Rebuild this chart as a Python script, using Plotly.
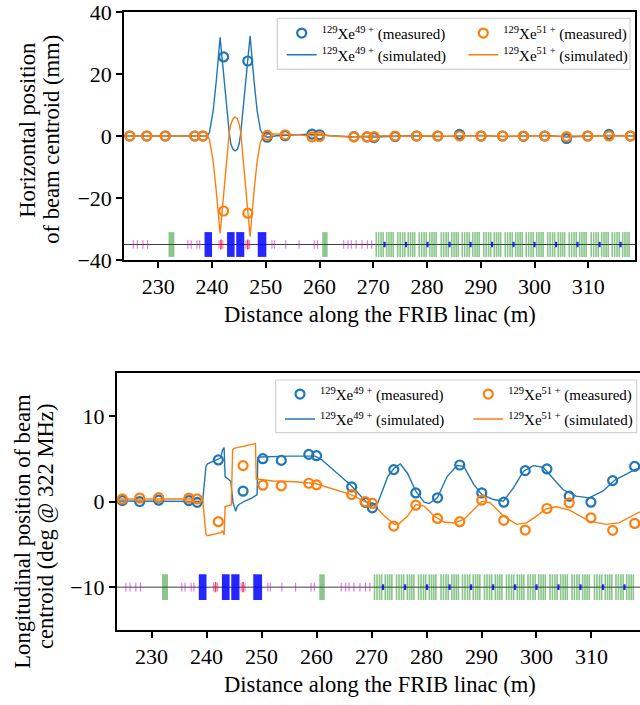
import plotly.graph_objects as go

W, H = 640, 705
FONT = "Liberation Serif"
C49 = "#1f77b4"
C51 = "#ff7f0e"

# ---------------- data ----------------
bpm_pos = [224.7, 227.85, 231.3, 236.8, 238.3, 242.15, 246.65, 250.25, 253.6, 258.6, 260.0,
           266.4, 268.85, 270.15, 274.05, 278.05, 282.0, 286.05, 290.05, 294.05, 297.95,
           301.9, 305.95, 309.9, 313.85, 317.85]
hor_meas_49 = [0, 0, 0, 0, 0, 25.5, 24.2, -0.4, 0.1, 0.6, 0.4, -0.2, -0.3, -0.5, -0.2, 0, 0,
               0.5, 0, 0, -0.1, 0, -0.8, 0, 0.5, 0]
hor_meas_51 = [0, 0, 0, 0, 0, -24.2, -24.9, 0.2, 0.4, -0.3, -0.2, -0.3, -0.3, -0.2, 0, 0, 0,
               0, 0, 0, 0, 0, -0.2, 0, 0, 0]
lon_meas_49 = [0.1, 0.0, 0.15, 0.1, -0.1, 4.85, 1.2, 5.0, 4.8, 5.5, 5.35, 1.7, -0.1, -0.74,
               3.72, 1.0, 0.43, 4.26, 1.0, -0.08, 3.6, 3.8, 0.62, -0.08, 2.44, 4.1]
lon_meas_51 = [0.3, 0.4, 0.45, 0.4, 0.3, -2.36, 4.19, 1.9, 1.82, 2.13, 1.94, 0.8, 0.0, -0.23,
               -2.87, -0.43, -1.98, -2.36, 0.15, -2.2, -3.33, -0.82, -0.15, -1.9, -3.37, -2.56]

hor_sim_49_s = [223.65, 239.0, 239.5, 240.2, 240.8, 241.5, 243.2, 243.5, 243.9, 244.3, 244.7,
                245.05, 245.35, 247.08, 247.8, 248.4, 249.0, 249.55, 250.2, 252.0, 255.0,
                258.0, 260.0, 262.0, 266.0, 270.0, 274.0, 278.0, 282.0, 286.0, 290.0, 294.0,
                298.0, 302.0, 306.0, 310.0, 314.0, 318.7]
hor_sim_49_v = [0, 0, 1.0, 8.0, 18.0, 31.8, 1.0, -2.5, -4.3, -4.8, -4.3, -2.5, 1.0, 32.3, 18.0,
                8.0, 2.0, 0.3, -0.4, 0.1, 0.3, 0.6, 0.5, 0.1, -0.2, -0.3, -0.1, 0.1, -0.2, 0.1,
                0.2, -0.2, 0.0, 0.2, -0.3, -0.1, 0.2, 0.0]
hor_sim_51_s = [223.65, 239.0, 239.5, 240.2, 240.8, 241.5, 243.2, 243.5, 243.9, 244.3, 244.7,
                245.05, 245.35, 247.08, 247.8, 248.4, 249.0, 249.55, 250.5, 253.0, 256.0,
                258.0, 260.0, 262.0, 266.0, 268.0, 272.0, 276.0, 280.0, 284.0, 288.0, 292.0,
                296.0, 300.0, 304.0, 308.0, 312.0, 318.7]
hor_sim_51_v = [0, 0, -1.0, -8.0, -18.0, -31.4, 1.0, 3.8, 5.6, 6.1, 5.6, 3.8, 1.0, -32.5, -18.0,
                -8.0, -2.0, -0.2, 0.7, 0.6, 0.4, 0.0, 0.3, 0.1, -0.4, -0.1, 0.1, -0.1, 0.1,
                -0.1, 0.1, 0.0, -0.1, 0.1, -0.1, 0.0, 0.1, 0.0]

lon_sim_49_s = [223.65, 239.29, 239.9, 240.19, 242.6, 242.9, 243.2, 243.38, 243.98, 244.41,
                244.82, 245.31, 245.6, 245.9, 246.8, 248.3, 249.2, 249.33, 249.82, 255.0,
                259.75, 260.9, 266.3, 267.5, 268.75, 269.95, 271.15, 272.95, 274.15, 275.24,
                276.55, 278.05, 279.57, 280.47, 281.97, 283.77, 285.57, 286.78, 288.58, 290.08,
                292.19, 293.99, 295.8, 297.6, 299.4, 301.2, 303.0, 304.8, 307.2, 309.6, 312.03,
                314.4, 317.9, 318.8]
lon_sim_49_v = [0.05, 0.0, 4.1, 4.4, 5.1, 6.0, 6.3, 2.9, 2.6, 2.36, -0.15, -1.13, -0.55, -0.35,
                0.0, 0.43, 0.8, 5.1, 5.2, 5.3, 5.3, 4.9, 1.86, 1.0, 0.15, -0.55, -0.15, 2.9,
                3.9, 4.38, 3.3, 1.2, -0.07, -0.23, 0.43, 2.94, 4.19, 4.1, 2.0, 0.8, 0.23, 0.04,
                1.59, 3.5, 4.19, 4.0, 2.75, 1.4, 0.62, 0.43, 1.2, 2.56, 3.72, 3.9]
lon_sim_51_s = [223.65, 239.29, 239.9, 240.19, 242.6, 242.9, 243.2, 243.38, 244.5, 244.75, 245.0,
                248.6, 248.9, 249.05, 249.5, 252.0, 256.0, 259.75, 260.9, 266.3, 268.75, 270.2,
                272.35, 274.15, 275.0, 276.55, 278.05, 279.57, 281.37, 283.17, 284.98, 286.78,
                288.58, 290.08, 291.58, 293.99, 296.4, 298.2, 299.99, 301.8, 303.6, 306.0,
                309.6, 312.6, 315.0, 317.9, 318.8]
lon_sim_51_v = [0.3, 0.3, -3.84, -4.0, -3.64, -3.4, -3.9, -0.6, -0.4, 6.0, 6.2, 6.7, 6.75, 2.6,
                2.6, 2.4, 2.3, 2.1, 1.86, 0.8, 0.0, -0.23, -1.7, -2.67, -2.6, -1.7, -0.35,
                -0.54, -1.7, -2.4, -2.5, -2.1, -0.93, 0.04, -0.15, -1.7, -2.67, -2.5, -1.7,
                -0.85, -0.62, -1.0, -2.3, -2.67, -2.5, -1.5, -1.2]

# beamline lattice (m)
quad_pos = [225.35, 226.1, 227.15, 228.0, 235.5, 236.1, 237.2, 237.7, 241.3, 242.0, 246.3,
            247.0, 251.15, 251.6, 253.7, 256.2, 259.0, 259.6, 264.5, 265.3, 265.9, 266.8,
            267.9, 268.9, 269.7]
corr_pos = [241.65, 246.65]
dipole_start = [238.6, 242.8, 244.5, 248.5]
dipole_end = [240.0, 244.2, 246.0, 250.1]
sol_start = [231.9, 260.5]
sol_end = [233.0, 261.5]
cryo_center = [272.1, 276.1, 280.1, 284.2, 288.1, 292.1, 296.1, 300.0, 304.0, 308.0, 312.1, 316.0]
cavity_offset = [-1.55, -1.1, -0.65, -0.25, 0.4, 0.82, 1.22, 1.6]

legend_names = ["<sup>129</sup>Xe<sup>49 +</sup> (measured)",
                "<sup>129</sup>Xe<sup>51 +</sup> (measured)",
                "<sup>129</sup>Xe<sup>49 +</sup> (simulated)",
                "<sup>129</sup>Xe<sup>51 +</sup> (simulated)"]

# ---------------- figure ----------------
fig = go.Figure()

def sim(xs, ys, color, name, xa, ya, leg):
    fig.add_trace(go.Scatter(x=xs, y=ys, mode="lines", line=dict(color=color, width=1.4),
                             name=name, xaxis=xa, yaxis=ya, legend=leg))

def meas(xs, ys, color, name, xa, ya, leg):
    fig.add_trace(go.Scatter(x=xs, y=ys, mode="markers",
                             marker=dict(symbol="circle-open", size=9, color=color,
                                         line=dict(width=2.2, color=color)),
                             name=name, xaxis=xa, yaxis=ya, legend=leg))

sim(hor_sim_49_s, hor_sim_49_v, C49, legend_names[2], "x", "y", "legend3")
sim(hor_sim_51_s, hor_sim_51_v, C51, legend_names[3], "x", "y", "legend4")
meas(bpm_pos, hor_meas_49, C49, legend_names[0], "x", "y", "legend")
meas(bpm_pos, hor_meas_51, C51, legend_names[1], "x", "y", "legend2")

sim(lon_sim_49_s, lon_sim_49_v, C49, legend_names[2], "x2", "y2", "legend7")
sim(lon_sim_51_s, lon_sim_51_v, C51, legend_names[3], "x2", "y2", "legend8")
meas(bpm_pos, lon_meas_49, C49, legend_names[0], "x2", "y2", "legend5")
meas(bpm_pos, lon_meas_51, C51, legend_names[1], "x2", "y2", "legend6")

shapes = []

def rect(xr, yr, x0, x1, y0, y1, color):
    shapes.append(dict(type="rect", xref=xr, yref=yr, x0=x0, x1=x1, y0=y0, y1=y1,
                       fillcolor=color, line=dict(width=0), layer="above"))

def lattice(xr, yr, yc, span):
    hb, hq, hs, hr = 0.05 * span, 0.017 * span, 0.011 * span, 0.02 * span
    shapes.append(dict(type="line", xref=xr + " domain", yref=yr, x0=0, x1=1, y0=yc, y1=yc,
                       line=dict(color="rgba(0,0,0,0.75)", width=1), layer="above"))
    green = "rgba(0,128,0,0.45)"
    for a, b in zip(sol_start, sol_end):
        rect(xr, yr, a, b, yc - hb, yc + hb, green)
    for c in cryo_center:
        for o in cavity_offset:
            rect(xr, yr, c + o - 0.15, c + o + 0.15, yc - hb, yc + hb, green)
        rect(xr, yr, c - 0.2, c + 0.2, yc - hs, yc + hs, "rgba(0,0,255,0.85)")
    for a, b in zip(dipole_start, dipole_end):
        rect(xr, yr, a, b, yc - hb, yc + hb, "rgba(0,0,255,0.85)")
    for q in quad_pos:
        rect(xr, yr, q - 0.1, q + 0.1, yc - hq, yc + hq, "rgba(191,0,191,0.55)")
    for r in corr_pos:
        rect(xr, yr, r - 0.15, r + 0.15, yc - hr, yc + hr, "rgba(255,0,0,0.75)")

lattice("x", "y", -35, 80)
lattice("x2", "y2", -10, 30)

def frame(x0, x1, y0, y1):
    shapes.append(dict(type="rect", xref="paper", yref="paper", x0=x0 / W, x1=x1 / W,
                       y0=1 - y1 / H, y1=1 - y0 / H, fillcolor="rgba(255,255,255,0.8)",
                       line=dict(color="rgb(210,210,210)", width=1.2), layer="above"))

frame(277.3, 630, 18.3, 69.3)
frame(275.7, 636.7, 380, 432.7)

axis_common = dict(showline=True, linecolor="black", linewidth=1.5, ticks="outside",
                   ticklen=6, tickwidth=1.5, tickcolor="black", showgrid=False,
                   zeroline=False, automargin=False, ticklabeloverflow="allow",
                   tickfont=dict(family=FONT, size=22, color="black"))

fig.update_layout(
    width=W, height=H, margin=dict(l=0, r=0, t=0, b=0, autoexpand=False),
    paper_bgcolor="white", plot_bgcolor="white",
    font=dict(family=FONT, color="black"),
    shapes=shapes,
    xaxis=dict(domain=[124 / W, 635 / W], range=[223.62, 318.69], anchor="y",
               tickmode="linear", tick0=0, dtick=10, mirror=True, **axis_common),
    yaxis=dict(domain=[1 - 260 / H, 1 - 12 / H], range=[-40, 40], anchor="x",
               tickmode="linear", tick0=0, dtick=20, mirror=True, **axis_common),
    xaxis2=dict(domain=[116.7 / W, 1.0], range=[223.67, 318.82], anchor="y2",
                tickmode="linear", tick0=0, dtick=10, mirror=True, **axis_common),
    yaxis2=dict(domain=[1 - 630 / H, 1 - 373 / H], range=[-15, 15], anchor="x2",
                tickmode="linear", tick0=0, dtick=10, mirror=False, **axis_common),
    showlegend=True,
)

def legend_cfg(x_text, y_c):
    return dict(x=(x_text - 40) / W, y=1 - y_c / H, xanchor="left", yanchor="middle",
                bgcolor="rgba(0,0,0,0)", borderwidth=0,
                font=dict(family=FONT, size=15, color="black"))

fig.update_layout(
    legend=legend_cfg(321.7, 33.3),
    legend2=legend_cfg(503.3, 33.3),
    legend3=legend_cfg(321.7, 55),
    legend4=legend_cfg(503.3, 55),
    legend5=legend_cfg(320, 394.3),
    legend6=legend_cfg(508.3, 394.3),
    legend7=legend_cfg(320, 419.3),
    legend8=legend_cfg(508.3, 419.3),
)

ann = []
def text(t, x, y, angle=0, size=22.6):
    ann.append(dict(text=t, x=x / W, y=1 - y / H, xref="paper", yref="paper",
                    showarrow=False, textangle=angle, xanchor="center", yanchor="middle",
                    font=dict(family=FONT, size=size, color="black")))

text("Distance along the FRIB linac (m)", 380, 314)
text("Distance along the FRIB linac (m)", 380, 684)
text("Horizontal position", 26.7, 130, -90)
text("of beam centroid (mm)", 51.7, 139, -90)
text("Longitudinal position of beam", 21.7, 531, -90)
text("centroid (deg @ 322 MHz)", 45, 527, -90)
fig.update_layout(annotations=ann)

fig.write_html("out.html")
